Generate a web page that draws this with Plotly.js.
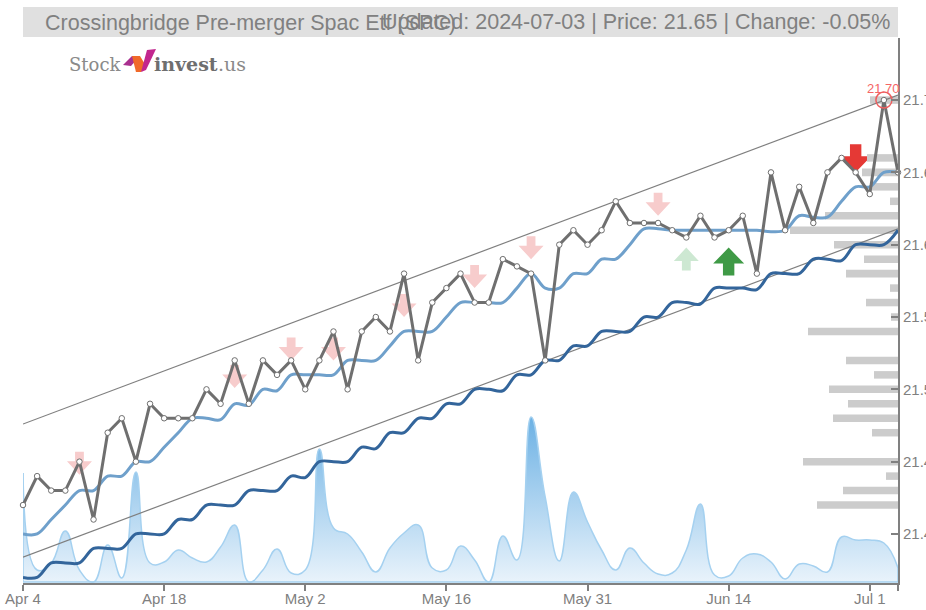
<!DOCTYPE html>
<html>
<head>
<meta charset="utf-8">
<script src="https://cdn.plot.ly/plotly-3.0.1.min.js"></script>
<style>html,body{margin:0;padding:0;background:#fff;overflow:hidden}#c{width:926px;height:610px}</style>
</head>
<body>
<div id="c"></div>
<script>
const sessions = Array.from({length: 63}, (_, i) => i);
const tickSessions = [0, 10, 20, 30, 40, 50, 60, 62];
const tickDates = ['Apr 4', 'Apr 18', 'May 2', 'May 16', 'May 31', 'Jun 14', 'Jul 1', ''];
const priceTicks = [21.7429, 21.70, 21.65, 21.60, 21.55, 21.50, 21.45, 21.40];
const priceLabels = ['', '21.70', '21.65', '21.60', '21.55', '21.50', '21.45', '21.40'];

const close = [21.42,21.44,21.43,21.43,21.45,21.41,21.47,21.48,21.45,21.49,21.48,21.48,21.48,21.50,21.49,21.52,21.49,21.52,21.51,21.52,21.50,21.52,21.54,21.50,21.54,21.55,21.54,21.58,21.52,21.56,21.57,21.58,21.56,21.56,21.59,21.585,21.58,21.52,21.60,21.61,21.60,21.61,21.63,21.615,21.615,21.615,21.61,21.605,21.62,21.605,21.61,21.62,21.58,21.65,21.61,21.64,21.615,21.65,21.66,21.65,21.635,21.70,21.65];

const maShort = [21.40,21.40,21.41,21.42,21.43,21.43,21.44,21.44,21.45,21.45,21.46,21.47,21.48,21.48,21.479,21.49,21.489,21.50,21.499,21.51,21.51,21.51,21.51,21.52,21.52,21.52,21.53,21.54,21.54,21.54,21.55,21.56,21.56,21.56,21.56,21.57,21.58,21.57,21.57,21.58,21.58,21.59,21.59,21.60,21.611,21.611,21.61,21.61,21.61,21.61,21.61,21.61,21.61,21.609,21.61,21.62,21.619,21.619,21.63,21.64,21.64,21.65,21.65];
const maLong = [21.37,21.37,21.38,21.38,21.38,21.39,21.39,21.39,21.40,21.40,21.40,21.41,21.41,21.42,21.42,21.42,21.43,21.43,21.43,21.44,21.439,21.45,21.45,21.45,21.46,21.459,21.47,21.47,21.48,21.48,21.49,21.49,21.50,21.50,21.499,21.51,21.51,21.52,21.52,21.53,21.53,21.54,21.54,21.54,21.55,21.55,21.56,21.56,21.559,21.57,21.57,21.57,21.569,21.58,21.58,21.58,21.59,21.59,21.589,21.60,21.60,21.60,21.61];

const volume = [109,12,19,51,12,0,37,4,110,19,20,32,24,20,35,57,0,12,33,9,12,133,54,48,30,10,34,49,57,14,12,36,22,0,46,22,165,85,21,90,60,32,12,34,19,8,9,32,78,7,6,24,28,20,3,18,16,10,45,42,42,39,14];

const channelIdx = [0, 62];
const upperChannel = [21.476, 21.7035];
const lowerChannel = [21.384, 21.611];

const profilePrice = [21.70,21.66,21.65,21.64,21.63,21.62,21.61,21.60,21.59,21.58,21.57,21.56,21.55,21.54,21.52,21.51,21.50,21.49,21.48,21.47,21.45,21.44,21.43,21.42];
const profileVolume = [28,31,36,28,8,73,108,64,34,52,8,32,7,90,52,24,69,50,65,26,95,12,55,81];

const weakSellIdx = [4, 15, 19, 22, 27, 32, 36, 45];
const weakSellTip = [21.441, 21.501, 21.52, 21.52, 21.55, 21.57, 21.59, 21.62];
const strongSellIdx = [59];
const strongSellTip = [21.65];
const weakBuyIdx = [47];
const weakBuyTip = [21.598];
const strongBuyIdx = [50];
const strongBuyTip = [21.598];

const titleName = 'Crossingbridge Pre-merger Spac Etf (SPC)';
const titleInfo = 'Updated: 2024-07-03 | Price: 21.65 | Change: -0.05%';
const maxIdx = 61, maxPrice = 21.70;

const gray = '#808080';
const yRange = [21.3661, 21.7429];

function arrow(idx, tip, color, big, up) {
  const h = big ? 28 : 23, s = big ? 16 : 13.5, hw = big ? 15.5 : 12.5, sw = big ? 5.7 : 4.4;
  const d = up ? -1 : 1;   // pixel offsets measured from the tip, + is up
  const path = 'M0,0 L' + hw + ',' + (d*s) + ' L' + sw + ',' + (d*s) + ' L' + sw + ',' + (d*h) +
    ' L' + (-sw) + ',' + (d*h) + ' L' + (-sw) + ',' + (d*s) + ' L' + (-hw) + ',' + (d*s) + ' Z';
  return {type:'path', xref:'x2', yref:'y3', xsizemode:'pixel', ysizemode:'pixel',
    xanchor: idx, yanchor: tip, path, fillcolor: color, line:{width:0}, layer:'below'};
}

const shapes = [
  {type:'rect', xref:'paper', yref:'paper', x0:0, x1:1, y0:1.0018, y1:1.0569, fillcolor:'#e0e0e0', line:{width:0}, layer:'below'}
];
weakSellIdx.forEach((x,i) => shapes.push(arrow(x, weakSellTip[i], '#f7cccc', false, false)));
strongSellIdx.forEach((x,i) => shapes.push(arrow(x, strongSellTip[i], '#e53935', true, false)));
weakBuyIdx.forEach((x,i) => shapes.push(arrow(x, weakBuyTip[i], '#cde8d2', false, true)));
strongBuyIdx.forEach((x,i) => shapes.push(arrow(x, strongBuyTip[i], '#3f9a46', true, true)));

// logo mark, in window pixels converted to paper fractions
const px = v => (v - 23) / 875, py = v => (583 - v) / 545;
function poly(points, color) {
  const path = points.map((p,i) => (i ? 'L' : 'M') + px(p[0]).toFixed(4) + ',' + py(p[1]).toFixed(4)).join(' ') + ' Z';
  return {type:'path', xref:'paper', yref:'paper', path, fillcolor:color, line:{width:0}, layer:'above'};
}
shapes.push(poly([[123,65],[132,56],[140,56],[131,66]], '#a9308f'));
shapes.push(poly([[132,56],[140,56],[146,66],[141,72],[136,72]], '#f0692a'));
shapes.push(poly([[141,72],[147,50],[156,49],[146,70]], '#c2278e'));

const traces = [
  {type:'bar', orientation:'h', x:profileVolume, y:profilePrice, xaxis:'x', yaxis:'y', width:0.0052,
    marker:{color:'#cccccc', line:{width:0}}, hoverinfo:'skip'},
  {type:'scatter', mode:'lines', x:sessions, y:volume, xaxis:'x2', yaxis:'y2',
    line:{shape:'spline', smoothing:1.3, color:'#a5d1f0', width:1.5}, fill:'tozeroy',
    fillgradient:{type:'vertical', colorscale:[[0,'#e9f3fb'],[1,'#6cb1e4']]}, hoverinfo:'skip'},
  {type:'scatter', mode:'lines', x:[0,0,62,62], y:[volume[0],0,0,volume[62]], xaxis:'x2', yaxis:'y2',
    line:{color:'#a5d1f0', width:1.5}, hoverinfo:'skip'},
  {type:'scatter', mode:'lines', x:channelIdx, y:upperChannel, xaxis:'x2', yaxis:'y3',
    line:{color:'#7f7f7f', width:1.2}, hoverinfo:'skip', cliponaxis:false},
  {type:'scatter', mode:'lines', x:channelIdx, y:lowerChannel, xaxis:'x2', yaxis:'y3',
    line:{color:'#7f7f7f', width:1.2}, hoverinfo:'skip', cliponaxis:false},
  {type:'scatter', mode:'lines', x:sessions, y:maLong, xaxis:'x2', yaxis:'y3',
    line:{shape:'spline', color:'#33659b', width:3}, cliponaxis:false},
  {type:'scatter', mode:'lines', x:sessions, y:maShort, xaxis:'x2', yaxis:'y3',
    line:{shape:'spline', color:'#6fa0cb', width:3}, cliponaxis:false},
  {type:'scatter', mode:'lines+markers', x:sessions, y:close, xaxis:'x2', yaxis:'y3',
    line:{color:'#6f6f6f', width:3}, cliponaxis:false,
    marker:{size:5.5, color:'#ffffff', line:{color:'#6f6f6f', width:1}}},
  {type:'scatter', mode:'markers', x:[maxIdx], y:[maxPrice], xaxis:'x2', yaxis:'y3', cliponaxis:false,
    marker:{size:16, color:'rgba(0,0,0,0)', line:{color:'#ee5f5f', width:1.5}}, hoverinfo:'skip'}
];

const logoFont = 'DejaVu Serif, serif';
const annotations = [
  {xref:'paper', yref:'paper', x:px(892), y:py(22), xanchor:'right', yanchor:'middle', showarrow:false,
    text:titleInfo, font:{family:'Liberation Sans', size:21.5, color:gray}},
  {xref:'x2', yref:'y3', x:maxIdx, y:maxPrice, yshift:12, showarrow:false, xanchor:'center', yanchor:'middle',
    text:maxPrice.toFixed(2), font:{family:'Liberation Sans', size:13, color:'#f56565'}},
  {xref:'paper', yref:'paper', x:px(67), y:py(64), xanchor:'left', yanchor:'middle', showarrow:false,
    text:'Stock', font:{family:logoFont, size:18, color:'#8a8a8a'}},
  {xref:'paper', yref:'paper', x:px(152), y:py(64), xanchor:'left', yanchor:'middle', showarrow:false,
    text:'<b>invest</b>', font:{family:logoFont, size:19, color:'#6e6e6e'}},
  {xref:'paper', yref:'paper', x:px(216), y:py(64), xanchor:'left', yanchor:'middle', showarrow:false,
    text:'.us', font:{family:logoFont, size:19, color:'#8a8a8a'}}
];

const layout = {
  width:926, height:610, margin:{l:23, r:28, t:38, b:27, pad:0},
  paper_bgcolor:'#ffffff', plot_bgcolor:'#ffffff', showlegend:false, hovermode:false,
  title:{text:titleName, x:45/926, xref:'container', xanchor:'left', y:1-22/610, yref:'container', yanchor:'middle',
    font:{family:'Liberation Sans', size:21.5, color:gray}},
  xaxis:{range:[875,0], visible:false, fixedrange:true},
  xaxis2:{overlaying:'x', side:'bottom', anchor:'y3', range:[0,62], tickmode:'array', tickvals:tickSessions, ticktext:tickDates,
    showgrid:false, zeroline:false, showline:true, linecolor:gray, linewidth:2,
    ticks:'outside', ticklen:6, tickwidth:1.5, tickcolor:gray, tickangle:0, ticklabelstandoff:-5,
    tickfont:{family:'Liberation Sans', size:15, color:gray}},
  yaxis:{range:yRange, visible:false},
  yaxis2:{overlaying:'y', range:[-1,544], visible:false},
  yaxis3:{overlaying:'y', side:'right', anchor:'x2', range:yRange, tickmode:'array', tickvals:priceTicks, ticktext:priceLabels,
    showgrid:false, zeroline:false, showline:true, linecolor:gray, linewidth:2,
    ticks:'inside', ticklen:7, tickwidth:1.5, tickcolor:gray,
    tickfont:{family:'Liberation Sans', size:15, color:gray}},
  shapes, annotations
};
Plotly.newPlot('c', traces, layout, {displayModeBar:false, responsive:false});
</script>
</body>
</html>
